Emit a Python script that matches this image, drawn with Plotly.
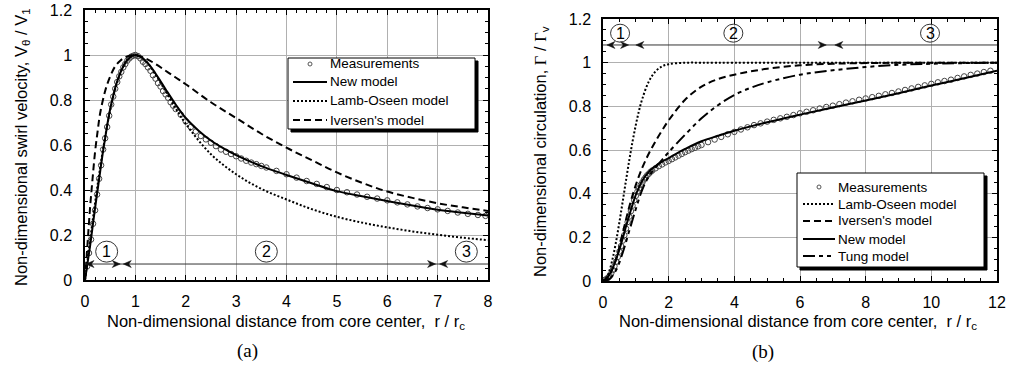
import plotly.graph_objects as go

W, H = 1009, 365

# ---------------- data: panel (a) swirl velocity ----------------
r_new_a = [0, 0.05, 0.1, 0.15, 0.2, 0.25, 0.3, 0.35, 0.4, 0.45, 0.5, 0.55, 0.6, 0.65, 0.7, 0.75, 0.8, 0.85, 0.9, 0.95, 1.0,
           1.1, 1.2, 1.3, 1.4, 1.5, 1.6, 1.8, 2.0, 2.25, 2.5, 2.75, 3.0, 3.5, 4.0, 4.5, 5.0, 5.5, 6.0, 6.5, 7.0, 7.5, 8.0]
v_new_a = [0, 0.075, 0.15, 0.235, 0.32, 0.40, 0.48, 0.56, 0.63, 0.70, 0.76, 0.81, 0.855, 0.89, 0.92, 0.945, 0.965, 0.98, 0.99, 0.997, 1.0,
           0.993, 0.975, 0.95, 0.918, 0.883, 0.848, 0.78, 0.72, 0.665, 0.62, 0.585, 0.555, 0.506, 0.467, 0.43, 0.395, 0.372, 0.351, 0.331, 0.312, 0.299, 0.287]

r_lo_a = [0, 0.1, 0.2, 0.3, 0.4, 0.5, 0.6, 0.7, 0.8, 0.9, 1.0, 1.2, 1.4, 1.6, 1.8, 2.0, 2.5, 3.0, 3.5, 4.0, 4.5, 5.0, 5.5, 6.0, 6.5, 7.0, 7.5, 8.0]
v_lo_a = [0, 0.175, 0.343, 0.498, 0.636, 0.754, 0.848, 0.918, 0.966, 0.992, 1.0, 0.974, 0.913, 0.839, 0.763, 0.694, 0.559, 0.47, 0.405, 0.358, 0.315, 0.281, 0.255, 0.234, 0.216, 0.201, 0.188, 0.177]

r_iv_a = [0, 0.05, 0.1, 0.15, 0.2, 0.25, 0.3, 0.4, 0.5, 0.6, 0.7, 0.8, 0.9, 1.0, 1.2, 1.4, 1.6, 1.8, 2.0, 2.5, 3.0, 3.5, 4.0, 4.5, 5.0, 5.5, 6.0, 6.5, 7.0, 7.5, 8.0]
v_iv_a = [0, 0.16, 0.32, 0.45, 0.57, 0.66, 0.74, 0.84, 0.905, 0.95, 0.975, 0.99, 0.998, 1.0, 0.985, 0.96, 0.93, 0.9, 0.87, 0.79, 0.72, 0.65, 0.588, 0.533, 0.478, 0.432, 0.393, 0.365, 0.341, 0.323, 0.307]

r_meas_a = [0.04, 0.08, 0.12, 0.16, 0.2, 0.24, 0.28, 0.32, 0.36, 0.4, 0.44, 0.48, 0.52, 0.56, 0.6, 0.64, 0.68, 0.72, 0.76, 0.8,
            0.84, 0.88, 0.92, 0.96, 1.0, 1.05, 1.1, 1.15, 1.2, 1.25, 1.3, 1.35, 1.4, 1.45, 1.5, 1.55, 1.6, 1.65, 1.7, 1.75,
            1.8, 1.9, 2.0, 2.1, 2.2, 2.3, 2.4, 2.5, 2.6, 2.7, 2.8, 2.9, 3.0, 3.1, 3.2, 3.3, 3.4, 3.5, 3.6, 3.8,
            4.0, 4.2, 4.4, 4.6, 4.8, 5.0, 5.2, 5.4, 5.6, 5.8, 6.0, 6.2, 6.4, 6.6, 6.8, 7.0, 7.2, 7.4, 7.6, 7.8, 7.95]
v_meas_a = [0.06, 0.12, 0.18, 0.25, 0.31, 0.38, 0.45, 0.51, 0.58, 0.63, 0.68, 0.73, 0.78, 0.815, 0.85, 0.88, 0.905, 0.925, 0.945, 0.96,
            0.975, 0.985, 0.993, 0.997, 1.0, 0.995, 0.985, 0.97, 0.96, 0.945, 0.93, 0.91, 0.895, 0.875, 0.86, 0.84, 0.825, 0.81, 0.79, 0.775,
            0.76, 0.735, 0.705, 0.68, 0.66, 0.64, 0.625, 0.61, 0.595, 0.58, 0.57, 0.56, 0.55, 0.54, 0.53, 0.522, 0.515, 0.507, 0.5, 0.485,
            0.47, 0.455, 0.44, 0.427, 0.413, 0.4, 0.39, 0.38, 0.37, 0.362, 0.354, 0.345, 0.336, 0.327, 0.32, 0.314, 0.307, 0.3, 0.294, 0.289, 0.285]

# ---------------- data: panel (b) circulation ----------------
r_lo_b = [0, 0.1, 0.2, 0.3, 0.4, 0.5, 0.6, 0.7, 0.8, 0.9, 1.0, 1.1, 1.2, 1.4, 1.6, 1.8, 2.0, 2.5, 3.0, 4.0, 6.0, 8.0, 10.0, 12.0]
g_lo_b = [0, 0.012, 0.049, 0.107, 0.182, 0.27, 0.364, 0.46, 0.553, 0.639, 0.715, 0.782, 0.836, 0.915, 0.96, 0.983, 0.993, 0.9996, 1.0, 1.0, 1.0, 1.0, 1.0, 1.0]

r_iv_b = [0, 0.2, 0.4, 0.6, 0.8, 1.0, 1.2, 1.4, 1.6, 1.8, 2.0, 2.5, 3.0, 3.5, 4.0, 4.5, 5.0, 6.0, 7.0, 8.0, 10.0, 12.0]
g_iv_b = [0, 0.03, 0.1, 0.22, 0.34, 0.44, 0.52, 0.585, 0.64, 0.69, 0.736, 0.83, 0.89, 0.925, 0.945, 0.96, 0.972, 0.988, 0.995, 0.998, 1.0, 1.0]

r_new_b = [0, 0.1, 0.2, 0.3, 0.4, 0.5, 0.6, 0.7, 0.8, 0.9, 1.0, 1.1, 1.2, 1.3, 1.4, 1.5, 1.6, 1.8, 2.0, 2.25, 2.5, 3.0, 3.5,
           4.0, 5.0, 6.0, 7.0, 8.0, 9.0, 10.0, 11.0, 12.0]
g_new_b = [0, 0.01, 0.03, 0.06, 0.1, 0.145, 0.195, 0.25, 0.3, 0.35, 0.395, 0.43, 0.46, 0.482, 0.5, 0.515, 0.527, 0.547, 0.563, 0.585, 0.605, 0.64, 0.665,
           0.688, 0.727, 0.762, 0.795, 0.827, 0.86, 0.895, 0.929, 0.963]

r_tung_b = [0, 0.2, 0.4, 0.6, 0.8, 1.0, 1.2, 1.4, 1.6, 1.8, 2.0, 2.5, 3.0, 3.5, 4.0, 4.5, 5.0, 6.0, 7.0, 8.0, 9.0, 10.0, 12.0]
g_tung_b = [0, 0.01, 0.05, 0.13, 0.23, 0.33, 0.42, 0.48, 0.52, 0.555, 0.59, 0.67, 0.745, 0.805, 0.852, 0.885, 0.91, 0.945, 0.965, 0.98, 0.99, 0.995, 1.0]

r_meas_b = [0.05, 0.1, 0.15, 0.2, 0.25, 0.3, 0.35, 0.4, 0.45, 0.5, 0.55, 0.6, 0.65, 0.7, 0.75, 0.8, 0.85, 0.9, 0.95, 1.0,
            1.05, 1.1, 1.15, 1.2, 1.25, 1.3, 1.35, 1.4, 1.45, 1.5, 1.6, 1.7, 1.8, 1.9, 2.0, 2.1, 2.2, 2.3, 2.4, 2.5,
            2.6, 2.7, 2.8, 2.9, 3.0, 3.2, 3.4, 3.6, 3.8, 4.0, 4.2, 4.4, 4.6, 4.8, 5.0, 5.2, 5.4, 5.6, 5.8, 6.0,
            6.2, 6.4, 6.6, 6.8, 7.0, 7.2, 7.4, 7.6, 7.8, 8.0, 8.2, 8.4, 8.6, 8.8, 9.0, 9.2, 9.4, 9.6, 9.8, 10.0,
            10.2, 10.4, 10.6, 10.8, 11.0, 11.2, 11.4, 11.6, 11.8]
g_meas_b = [0.005, 0.008, 0.015, 0.022, 0.035, 0.05, 0.068, 0.088, 0.11, 0.135, 0.16, 0.185, 0.21, 0.24, 0.27, 0.295, 0.32, 0.345, 0.37, 0.39,
            0.41, 0.425, 0.44, 0.452, 0.465, 0.475, 0.485, 0.492, 0.5, 0.506, 0.516, 0.526, 0.534, 0.543, 0.55, 0.558, 0.566, 0.574, 0.582, 0.59,
            0.597, 0.604, 0.61, 0.617, 0.623, 0.636, 0.648, 0.66, 0.672, 0.683, 0.694, 0.704, 0.714, 0.722, 0.73, 0.738, 0.745, 0.752, 0.76, 0.768,
            0.775, 0.782, 0.79, 0.797, 0.803, 0.81, 0.817, 0.823, 0.83, 0.836, 0.842, 0.848, 0.855, 0.861, 0.868, 0.875, 0.882, 0.889, 0.896, 0.903,
            0.91, 0.916, 0.922, 0.93, 0.937, 0.944, 0.95, 0.957, 0.963]

# region markers: arrowhead positions (x, direction) on a horizontal guide line, and circled labels
arrows_a = [(0.02, 'left'), (0.70, 'right'), (0.76, 'left'), (6.96, 'right'), (7.04, 'left')]
labels_a = [(0.43, '1'), (3.6, '2'), (7.57, '3')]
arrows_b = [(0.12, 'left'), (0.78, 'right'), (1.0, 'left'), (6.8, 'right'), (7.06, 'left')]
labels_b = [(0.52, '1'), (3.97, '2'), (9.96, '3')]

legend_a = ['Measurements', 'New model', 'Lamb-Oseen model', "Iversen's model"]
legend_b = ['Measurements', 'Lamb-Oseen model', "Iversen's model", 'New model', 'Tung model']

FONT = 'Liberation Sans, Arial, sans-serif'
SERIF = 'Liberation Serif, Times New Roman, serif'
DOT = '2px,2px'
DASH = '7px,4px'
TUNG = '12px,4px,4px,4px,4px,4px'

fig = go.Figure()

meas_style = dict(mode='markers', marker=dict(symbol='circle-open', size=5.5, color='#444444', line=dict(width=1)), showlegend=False)

# panel (a)
fig.add_trace(go.Scatter(x=r_meas_a, y=v_meas_a, name='Measurements', xaxis='x', yaxis='y', **meas_style))
fig.add_trace(go.Scatter(x=r_lo_a, y=v_lo_a, name='Lamb-Oseen model', mode='lines', line=dict(color='black', width=2, dash=DOT, shape='spline'), xaxis='x', yaxis='y', showlegend=False))
fig.add_trace(go.Scatter(x=r_iv_a, y=v_iv_a, name="Iversen's model", mode='lines', line=dict(color='black', width=2, dash=DASH, shape='spline'), xaxis='x', yaxis='y', showlegend=False))
fig.add_trace(go.Scatter(x=r_new_a, y=v_new_a, name='New model', mode='lines', line=dict(color='black', width=2, shape='spline'), xaxis='x', yaxis='y', showlegend=False))

# panel (b)
fig.add_trace(go.Scatter(x=r_meas_b, y=g_meas_b, name='Measurements', xaxis='x2', yaxis='y2', **meas_style))
fig.add_trace(go.Scatter(x=r_lo_b, y=g_lo_b, name='Lamb-Oseen model', mode='lines', line=dict(color='black', width=2, dash=DOT, shape='spline'), xaxis='x2', yaxis='y2', showlegend=False))
fig.add_trace(go.Scatter(x=r_iv_b, y=g_iv_b, name="Iversen's model", mode='lines', line=dict(color='black', width=2, dash=DASH, shape='spline'), xaxis='x2', yaxis='y2', showlegend=False))
fig.add_trace(go.Scatter(x=r_tung_b, y=g_tung_b, name='Tung model', mode='lines', line=dict(color='black', width=2, dash=TUNG, shape='spline'), xaxis='x2', yaxis='y2', showlegend=False))
fig.add_trace(go.Scatter(x=r_new_b, y=g_new_b, name='New model', mode='lines', line=dict(color='black', width=2, shape='spline'), xaxis='x2', yaxis='y2', showlegend=False))


def px_x(x):
    return x / W


def px_y(y):
    return 1 - y / H


def axis(domain, rng, dtick, minor_dtick):
    return dict(domain=domain, range=rng, dtick=dtick, tick0=0, showgrid=True, gridcolor='#b0b0b0', gridwidth=1,
                showline=True, linecolor='black', linewidth=1.5, mirror='allticks', ticks='inside', ticklen=5,
                tickcolor='black', zeroline=False, automargin=False, fixedrange=True,
                tickfont=dict(family=FONT, size=16, color='black'),
                minor=dict(dtick=minor_dtick, ticks='inside', ticklen=3, tickcolor='black', showgrid=False))


xa = axis([px_x(85), px_x(488)], [0, 8], 1, 0.2)
ya = axis([px_y(280), px_y(10)], [0, 1.2], 0.2, 0.05)
xb = axis([px_x(603), px_x(997)], [0, 12], 2, 0.5)
yb = axis([px_y(281), px_y(19)], [0, 1.2], 0.2, 0.05)
xa['ticklabelstandoff'] = 6
xb['ticklabelstandoff'] = 6
ya['ticklabelstandoff'] = 8
yb['ticklabelstandoff'] = 7
yb['anchor'] = 'x2'
xb['anchor'] = 'y2'

shapes = []
annotations = []

ARROW_L = 'M0,0 L8,3.5 L5.5,0 L8,-3.5 Z'
ARROW_R = 'M0,0 L-8,3.5 L-5.5,0 L-8,-3.5 Z'


def add_regions(arrows, labs, xref, yref, xmax, yline, ylab, rad):
    shapes.append(dict(type='line', xref=xref, yref=yref, x0=0, x1=xmax, y0=yline, y1=yline,
                       line=dict(color='#333', width=1)))
    for xa_, d in arrows:
        shapes.append(dict(type='path', xref=xref, yref=yref, xsizemode='pixel', ysizemode='pixel',
                           xanchor=xa_, yanchor=yline, path=ARROW_L if d == 'left' else ARROW_R,
                           fillcolor='#111', line=dict(color='#111', width=0.5)))
    for xc, t in labs:
        shapes.append(dict(type='circle', xref=xref, yref=yref, xsizemode='pixel', ysizemode='pixel',
                           xanchor=xc, yanchor=ylab, x0=-rad, x1=rad, y0=-rad + 0.5, y1=rad - 0.5,
                           line=dict(color='#333', width=1), fillcolor='rgba(0,0,0,0)'))
        annotations.append(dict(x=xc, y=ylab, xref=xref, yref=yref, text=t, showarrow=False,
                                xanchor='center', yanchor='middle',
                                font=dict(family=FONT, size=16, color='black')))


add_regions(arrows_a, labels_a, 'x', 'y', 8, 0.071, 0.126, 11)
add_regions(arrows_b, labels_b, 'x2', 'y2', 12, 1.081, 1.135, 9.5)


# manual legends (box with drop shadow)
def add_legend(x0, y0, x1, y1, entries, ys, styles, xline0, xline1, xtext):
    shapes.append(dict(type='rect', xref='paper', yref='paper', x0=px_x(x0 + 3), x1=px_x(x1 + 3), y0=px_y(y1 + 3), y1=px_y(y0 + 3),
                       fillcolor='black', line=dict(color='black', width=1), layer='above'))
    shapes.append(dict(type='rect', xref='paper', yref='paper', x0=px_x(x0), x1=px_x(x1), y0=px_y(y1), y1=px_y(y0),
                       fillcolor='white', line=dict(color='black', width=1), layer='above'))
    for name, yy, st in zip(entries, ys, styles):
        if st == 'marker':
            xc = (xline0 + xline1) / 2
            shapes.append(dict(type='circle', xref='paper', yref='paper', x0=px_x(xc - 2), x1=px_x(xc + 2),
                               y0=px_y(yy + 2), y1=px_y(yy - 2), line=dict(color='#555', width=1), layer='above'))
        else:
            ln = dict(color='black', width=2)
            if st != 'solid':
                ln['dash'] = st
            shapes.append(dict(type='line', xref='paper', yref='paper', x0=px_x(xline0), x1=px_x(xline1),
                               y0=px_y(yy), y1=px_y(yy), line=ln, layer='above'))
        annotations.append(dict(x=px_x(xtext), y=px_y(yy), xref='paper', yref='paper', text=name, showarrow=False,
                                xanchor='left', yanchor='middle', font=dict(family=FONT, size=13.5, color='black')))


add_legend(288, 58, 475, 129, legend_a, [64, 82, 101, 120], ['marker', 'solid', DOT, DASH], 293, 327, 328)
add_legend(797, 173, 984, 267, legend_b, [187, 204, 221, 239, 256], ['marker', DOT, DASH, 'solid', TUNG], 803, 835, 836)

# axis titles and panel labels
TITLE_X = 'Non-dimensional distance from core center,  r / r<sub>c</sub>'
annotations += [
    dict(x=px_x(286), y=px_y(322), text=TITLE_X, textangle=0, font=dict(family=FONT, size=16.5, color='black')),
    dict(x=px_x(798), y=px_y(322), text=TITLE_X, textangle=0, font=dict(family=FONT, size=16.5, color='black')),
    dict(x=px_x(22), y=px_y(147), textangle=-90,
         text='Non-dimensional swirl velocity, V<sub>θ</sub> / V<sub>1</sub>', font=dict(family=FONT, size=16.5, color='black')),
    dict(x=px_x(541), y=px_y(152), textangle=-90,
         text="Non-dimensional circulation, <span style='font-family:Liberation Serif'>Γ</span> / <span style='font-family:Liberation Serif'>Γ</span><sub>v</sub>",
         font=dict(family=FONT, size=16.5, color='black')),
    dict(x=px_x(247), y=px_y(351), text='(a)', textangle=0, font=dict(family=SERIF, size=19, color='black')),
    dict(x=px_x(763), y=px_y(352), text='(b)', textangle=0, font=dict(family=SERIF, size=19, color='black')),
]
for a in annotations[-6:]:
    a.update(xref='paper', yref='paper', showarrow=False, xanchor='center', yanchor='middle')

fig.update_layout(width=W, height=H, margin=dict(l=0, r=0, t=0, b=0), paper_bgcolor='white', plot_bgcolor='white',
                  xaxis=xa, yaxis=ya, xaxis2=xb, yaxis2=yb, shapes=shapes, annotations=annotations, showlegend=False,
                  font=dict(family=FONT, color='black'))

fig.write_html('out.html')
